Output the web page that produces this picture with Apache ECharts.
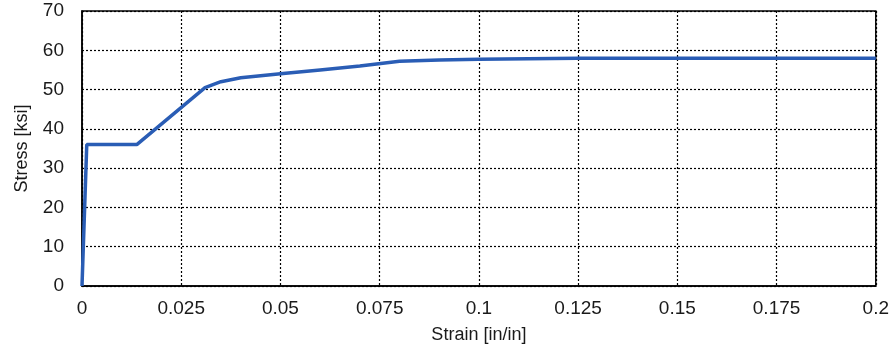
<!DOCTYPE html>
<html><head><meta charset="utf-8">
<script src="https://cdn.jsdelivr.net/npm/echarts@6/dist/echarts.min.js"></script>
<style>html,body{margin:0;padding:0;background:#fff}#c{width:892px;height:349px}</style>
</head><body><div id="c"></div>
<script>
const strain = [0, 0.0012, 0.0138, 0.031, 0.035, 0.04, 0.05, 0.06, 0.07, 0.08, 0.09, 0.1, 0.125, 0.15, 0.175, 0.2];
const stress = [0, 36, 36, 50.5, 52, 53, 54, 55, 56, 57.2, 57.5, 57.7, 58, 58, 58, 58];
const xTicks = [0, 0.025, 0.05, 0.075, 0.1, 0.125, 0.15, 0.175, 0.2];
const yTicks = [0, 10, 20, 30, 40, 50, 60, 70];

const chart = echarts.init(document.getElementById('c'));
const font = 'Liberation Sans, Arial, sans-serif';
chart.setOption({
  animation: false,
  grid: {left: 82, right: 15, top: 11, bottom: 62, show: true, borderColor: '#000', borderWidth: 1.5},
  xAxis: {
    type: 'value', min: 0, max: 0.2, interval: 0.025,
    name: 'Strain [in/in]', nameLocation: 'middle', nameGap: 40,
    nameTextStyle: {fontFamily: font, fontSize: 18, color: '#1a1a1a'},
    axisLine: {show: true, lineStyle: {color: '#000', width: 1.5}},
    axisTick: {show: false},
    axisLabel: {fontFamily: font, fontSize: 19, color: '#1a1a1a', margin: 13,
      formatter: v => { const t = xTicks.find(x => Math.abs(x - v) < 1e-9); return t === undefined ? '' : String(t); }},
    splitLine: {show: true, lineStyle: {color: '#000', type: [2, 2], width: 1.2}}
  },
  yAxis: {
    type: 'value', min: 0, max: 70, interval: 10,
    name: 'Stress [ksi]', nameLocation: 'middle', nameGap: 51,
    nameTextStyle: {fontFamily: font, fontSize: 18, color: '#1a1a1a'},
    axisLine: {show: true, lineStyle: {color: '#000', width: 1.5}},
    axisTick: {show: false},
    axisLabel: {fontFamily: font, fontSize: 19, color: '#1a1a1a', margin: 18,
      formatter: v => yTicks.includes(v) ? String(v) : ''},
    splitLine: {show: true, lineStyle: {color: '#000', type: [2, 2], width: 1.2}}
  },
  series: [{
    type: 'line', data: strain.map((s, i) => [s, stress[i]]),
    showSymbol: false, smooth: false,
    lineStyle: {color: '#2a5db5', width: 3.5}
  }]
});
</script></body></html>
